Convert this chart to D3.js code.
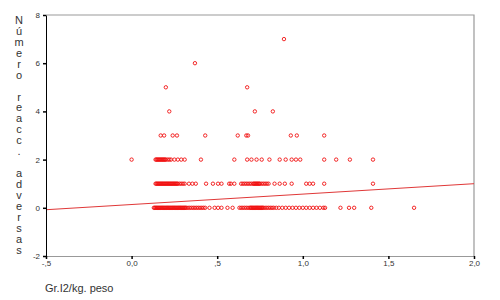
<!DOCTYPE html>
<html lang="es">
<head>
<meta charset="UTF-8">
<title>Reacciones adversas</title>
<script src="https://d3js.org/d3.v7.min.js"></script>
<style>
  body { margin: 0; background: #fff; }
  svg text { font-family: "Liberation Sans", Arial, sans-serif; }
</style>
</head>
<body>
<div id="chart"></div>
<script>
// dosis (Gr.I2/kg. peso) de cada caso, agrupadas por numero de reacciones adversas
const dose0 = [0.13,0.135,0.14,0.145,0.15,0.155,0.16,0.165,0.17,0.175,0.18,0.185,0.19,0.195,
  0.20,0.205,0.21,0.215,0.22,0.225,0.23,0.235,0.24,0.245,0.25,0.255,0.26,0.265,0.27,0.275,
  0.28,0.285,0.29,0.295,0.30,0.305,0.31,0.315,0.32,0.33,0.34,0.35,0.36,0.37,0.38,0.39,0.40,0.41,0.42,0.43,
  0.455,0.485,0.505,0.525,0.56,0.59,
  0.63,0.64,0.65,0.66,0.67,0.68,0.69,0.695,0.70,0.705,0.71,0.715,0.72,0.725,0.73,0.735,0.74,
  0.745,0.75,0.755,0.76,0.765,0.77,0.78,0.79,0.80,0.81,0.82,0.83,0.845,
  0.86,0.88,0.90,0.92,0.94,0.96,0.98,1.00,1.02,1.04,1.06,1.08,1.10,1.12,1.13,
  1.22,1.27,1.30,1.40,1.65];
const dose1 = [0.14,0.145,0.15,0.155,0.16,0.165,0.17,0.175,0.18,0.185,0.19,0.195,0.20,0.205,
  0.21,0.215,0.22,0.225,0.23,0.235,0.24,0.245,0.25,0.255,0.26,0.265,0.27,0.28,0.29,
  0.30,0.31,0.335,0.355,0.375,0.435,0.475,0.505,0.525,0.57,0.58,0.60,
  0.64,0.65,0.66,0.67,0.68,0.69,0.70,0.71,0.715,0.72,0.725,0.73,0.735,0.74,0.745,0.75,0.76,
  0.77,0.78,0.79,0.80,
  0.835,0.865,0.895,0.935,1.02,1.04,1.06,1.125,1.41];
const dose2 = [0.0,0.14,0.145,0.15,0.155,0.16,0.165,0.17,0.175,0.18,0.185,0.19,0.195,0.20,
  0.21,0.22,0.23,0.25,0.27,0.29,0.31,
  0.405,0.60,0.675,0.70,0.73,0.76,0.805,0.865,0.90,0.935,0.96,0.985,1.125,1.195,1.275,1.41];
const dose3 = [0.17,0.19,0.24,0.265,0.43,0.62,0.67,0.68,0.93,0.965,1.125];
const dose4 = [0.22,0.72,0.825];
const dose5 = [0.20,0.675];
const dose6 = [0.37];
const dose7 = [0.89];
const doseByCount = [dose0, dose1, dose2, dose3, dose4, dose5, dose6, dose7];

// recta de regresion
const fitIntercept = 0.136;
const fitSlope = 0.432;

const xTicks = [-0.5, 0, 0.5, 1.0, 1.5, 2.0];
const xTickLabels = ["-,5", "0,0", ",5", "1,0", "1,5", "2,0"];
const yTicks = [-2, 0, 2, 4, 6, 8];
const yTickLabels = ["-2", "0", "2", "4", "6", "8"];
const yTitle = "Número reacc. adversas";
const xTitle = "Gr.I2/kg. peso";

const W = 500, H = 300;
const mLeft = 46, mRight = 474, mTop = 15, mBottom = 256;

const svg = d3.select("#chart").append("svg")
  .attr("width", W).attr("height", H);

const x = d3.scaleLinear().domain([-0.5, 2.0]).range([mLeft, mRight]);
const y = d3.scaleLinear().domain([-2, 8]).range([mBottom, mTop]);

// marco superior y derecho
svg.append("path")
  .attr("d", `M${mLeft},${mTop}H${mRight}V${mBottom}`)
  .attr("fill", "none").attr("stroke", "#999").attr("stroke-width", 1.2);

// puntos
const points = [];
doseByCount.forEach((arr, n) => arr.forEach(d => points.push({ dose: d, n: n })));

svg.append("g").selectAll("circle")
  .data(points)
  .enter().append("circle")
  .attr("cx", d => x(d.dose))
  .attr("cy", d => y(d.n))
  .attr("r", 1.7)
  .attr("fill", "none")
  .attr("stroke", "#f01010")
  .attr("stroke-width", 0.9);

// recta
svg.append("line")
  .attr("x1", x(-0.5)).attr("y1", y(fitIntercept + fitSlope * -0.5))
  .attr("x2", x(2.0)).attr("y2", y(fitIntercept + fitSlope * 2.0))
  .attr("stroke", "#e03838").attr("stroke-width", 1);

// ejes
const yAxis = svg.append("g")
  .attr("transform", `translate(${mLeft},0)`)
  .call(d3.axisLeft(y).tickValues(yTicks).tickSize(3).tickSizeOuter(0)
    .tickFormat((d, i) => yTickLabels[i]));
yAxis.select(".domain").attr("stroke", "#000");
yAxis.selectAll("line").attr("stroke", "#000").attr("stroke-width", 1.5);
yAxis.selectAll("text").attr("font-size", 8).attr("fill", "#333").attr("x", -6);

const xAxis = svg.append("g")
  .attr("transform", `translate(0,${mBottom})`)
  .call(d3.axisBottom(x).tickValues(xTicks).tickSize(3).tickSizeOuter(0)
    .tickFormat((d, i) => xTickLabels[i]));
xAxis.select(".domain").attr("stroke", "#999").attr("stroke-width", 1.2);
xAxis.selectAll("line").attr("stroke", "#000").attr("stroke-width", 1.5);
xAxis.selectAll("text").attr("font-size", 8).attr("fill", "#333").attr("y", 4);

// titulo eje y, una letra por linea
svg.append("g").selectAll("text")
  .data(yTitle.split(""))
  .enter().append("text")
  .attr("x", 19)
  .attr("y", (d, i) => 20 + i * 10.95)
  .attr("dy", "0.35em")
  .attr("text-anchor", "middle")
  .attr("font-size", 11)
  .attr("fill", "#333")
  .text(d => d);

svg.append("text")
  .attr("x", 45).attr("y", 292)
  .attr("font-size", 11)
  .attr("fill", "#333")
  .text(xTitle);
</script>
</body>
</html>
